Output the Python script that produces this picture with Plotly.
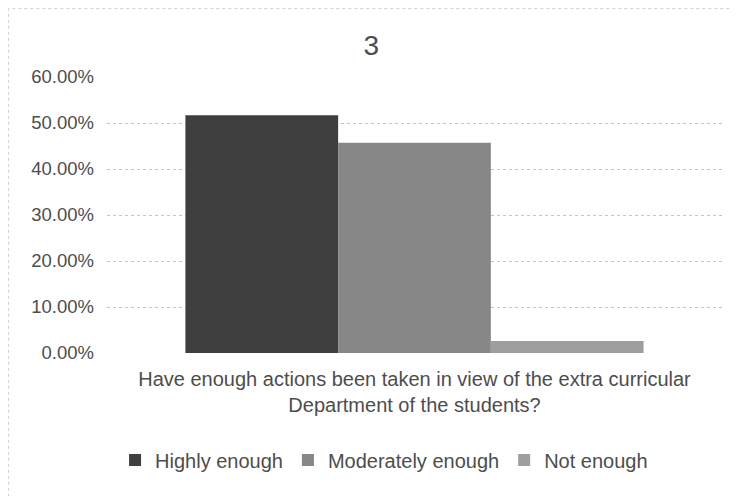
import plotly.graph_objects as go

category = ["Have enough actions been taken in view of the extra curricular<br>Department of the students?"]
series_names = ["Highly enough", "Moderately enough", "Not enough"]
series_values = [0.517, 0.457, 0.026]
series_colors = ["#3f3f3f", "#878787", "#9e9e9e"]
y_ticks = [0, 0.1, 0.2, 0.3, 0.4, 0.5, 0.6]
y_tick_labels = ["0.00%", "10.00%", "20.00%", "30.00%", "40.00%", "50.00%", "60.00%"]

fig = go.Figure()
for name, val, col in zip(series_names, series_values, series_colors):
    fig.add_trace(go.Bar(
        x=[0], y=[val], name=name,
        marker=dict(color=col, line=dict(width=0)),
    ))

FONT = "Liberation Sans"
TXT = "#4d4d4d"
fig.update_layout(
    width=731, height=488,
    paper_bgcolor="white", plot_bgcolor="white",
    margin=dict(l=99, r=17, t=69, b=143, autoexpand=False),
    barmode="group", bargap=0.255, bargroupgap=0,
    font=dict(family=FONT, size=19, color=TXT),
    title=dict(text="3", x=0.497, xanchor="center", y=0.924, yanchor="middle",
               font=dict(family=FONT, size=28, color=TXT)),
    showlegend=True,
    legend=dict(orientation="h", x=0.4505, xanchor="center", y=-0.388, yanchor="middle",
                font=dict(family=FONT, size=20, color=TXT),
                itemwidth=30, traceorder="normal"),
    xaxis=dict(
        range=[-0.5, 0.5], showticklabels=False, showgrid=False, zeroline=False,
        showline=False, ticks="",
        title=dict(text=category[0], standoff=18,
                   font=dict(family=FONT, size=20, color=TXT)),
    ),
    yaxis=dict(
        range=[0, 0.6], tickvals=y_ticks, ticktext=y_tick_labels,
        showgrid=True, gridcolor="#c4c4c4", griddash="dot", gridwidth=1,
        zeroline=False, showline=False, ticks="", ticklabelstandoff=12,
        tickfont=dict(family=FONT, size=18.5, color=TXT),
    ),
    shapes=[dict(type="rect", xref="paper", yref="paper",
                 x0=-0.160, x1=1.021, y0=-0.6, y1=1.248,
                 line=dict(color="#d0d0d0", width=1, dash="dot"))],
)
fig.write_html("out.html")
